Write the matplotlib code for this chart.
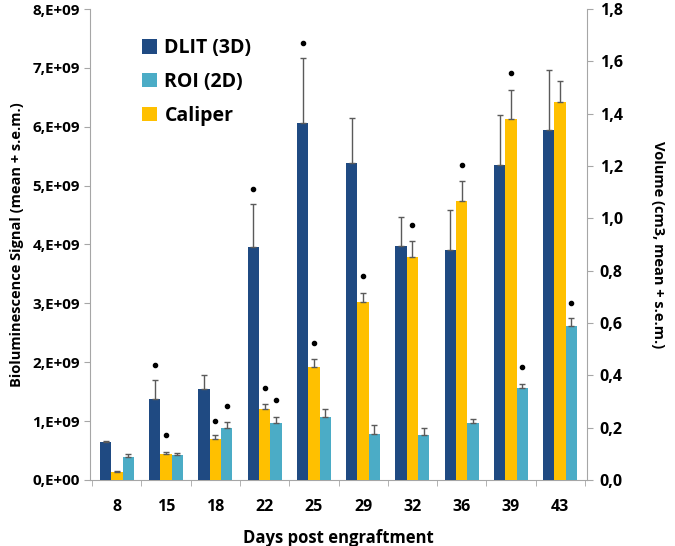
import matplotlib
matplotlib.use("Agg")
import matplotlib.pyplot as plt
import numpy as np

days = ["8", "15", "18", "22", "25", "29", "32", "36", "39", "43"]

# Bioluminescence (x1e9), left axis
dlit = [0.65, 1.37, 1.55, 3.96, 6.06, 5.39, 3.97, 3.90, 5.35, 5.95]
dlit_err = [0.01, 0.32, 0.23, 0.73, 1.11, 0.75, 0.49, 0.68, 0.85, 1.01]
dlit_dot = [None, 1.95, None, 4.94, 7.43, None, None, None, None, None]

roi = [0.385, 0.42, 0.876, 0.97, 1.07, 0.78, 0.755, 0.97, 1.56, 2.62]
roi_err = [0.05, 0.03, 0.115, 0.10, 0.14, 0.15, 0.135, 0.07, 0.075, 0.13]
roi_dot = [None, None, 1.25, 1.36, None, None, None, None, 1.92, 3.01]

# Caliper volume (cm3), right axis
caliper = [0.032, 0.10, 0.155, 0.273, 0.43, 0.679, 0.854, 1.066, 1.379, 1.445]
caliper_err = [0.003, 0.007, 0.015, 0.016, 0.032, 0.036, 0.06, 0.076, 0.112, 0.08]
caliper_dot = [None, 0.173, 0.225, 0.351, 0.524, 0.779, 0.975, 1.204, 1.554, None]

left_ticks = [0, 1, 2, 3, 4, 5, 6, 7, 8]
left_labels = ["0,E+00", "1,E+09", "2,E+09", "3,E+09", "4,E+09",
               "5,E+09", "6,E+09", "7,E+09", "8,E+09"]
right_ticks = [0, 0.2, 0.4, 0.6, 0.8, 1.0, 1.2, 1.4, 1.6, 1.8]
right_labels = ["0,0", "0,2", "0,4", "0,6", "0,8", "1,0", "1,2", "1,4", "1,6", "1,8"]

C_DLIT = "#1F4A82"
C_ROI = "#4BACC6"
C_CAL = "#FFC000"
C_ERR = "#5a5a5a"
C_AX = "#a6a6a6"

plt.rcParams["font.family"] = ["Open Sans", "DejaVu Sans"]
plt.rcParams["font.weight"] = "bold"

fig = plt.figure(figsize=(6.75, 5.46), dpi=100)
ax = fig.add_axes([0.133, 0.121, 0.737, 0.8625])
ax2 = ax.twinx()

x = np.arange(len(days))
w = 0.23

ekw = dict(ecolor=C_ERR, elinewidth=1, capsize=2.5, capthick=1)
ax.bar(x - w, dlit, w, color=C_DLIT, label="DLIT (3D)", zorder=3,
       yerr=[np.zeros(len(dlit)), dlit_err], error_kw=ekw)
ax.bar(x + w, roi, w, color=C_ROI, label="ROI (2D)", zorder=3,
       yerr=[np.zeros(len(roi)), roi_err], error_kw=ekw)
ax2.bar(x, caliper, w, color=C_CAL, label="Caliper", zorder=3,
        yerr=[np.zeros(len(caliper)), caliper_err], error_kw=ekw)

for i in range(len(days)):
    if dlit_dot[i] is not None:
        ax.plot(x[i] - w, dlit_dot[i], "o", color="black", ms=3, zorder=4)
    if roi_dot[i] is not None:
        ax.plot(x[i] + w, roi_dot[i], "o", color="black", ms=3, zorder=4)
    if caliper_dot[i] is not None:
        ax2.plot(x[i], caliper_dot[i], "o", color="black", ms=3, zorder=4)

ax.set_xlim(-0.55, len(days) - 0.45)
ax.set_ylim(0, 8)
ax2.set_ylim(0, 1.8)

ax.set_yticks(left_ticks)
ax.set_yticklabels(left_labels)
ax2.set_yticks(right_ticks)
ax2.set_yticklabels(right_labels)

ax.set_xticks(x)
ax.set_xticklabels(days)
ax.set_xticks(np.arange(len(days) + 1) - 0.5, minor=True)
ax.tick_params(axis="x", which="major", length=0, pad=14, labelsize=11.5)
ax.tick_params(axis="x", which="minor", length=4, color=C_AX, direction="out")
ax.tick_params(axis="y", length=4, color=C_AX, labelsize=11, pad=3)
ax2.tick_params(axis="y", length=4, color=C_AX, labelsize=11.5, pad=5)

for a in (ax, ax2):
    a.spines["top"].set_visible(False)
    for s in ("left", "right", "bottom"):
        a.spines[s].set_color(C_AX)
ax.spines["right"].set_visible(False)
ax2.spines["left"].set_visible(False)
ax2.spines["bottom"].set_visible(False)

ax.set_xlabel("Days post engraftment", fontsize=12, fontweight="bold", labelpad=10)
ax.set_ylabel("Bioluminescence Signal (mean + s.e.m.)", fontsize=10.5,
              fontweight="bold", labelpad=6)
ax2.set_ylabel("Volume (cm3, mean + s.e.m.)", fontsize=10.5, fontweight="bold",
               rotation=270, labelpad=30)

h1, l1 = ax.get_legend_handles_labels()
h2, l2 = ax2.get_legend_handles_labels()
handles = [h1[0], h1[1], h2[0]]
labels = [l1[0], l1[1], l2[0]]
ax.legend(handles, labels, loc="upper left", bbox_to_anchor=(0.07, 0.975),
          frameon=False, fontsize=14, handlelength=0.75, handleheight=0.75,
          handletextpad=0.4, labelspacing=0.7)

fig.savefig("out.png", dpi=100)
